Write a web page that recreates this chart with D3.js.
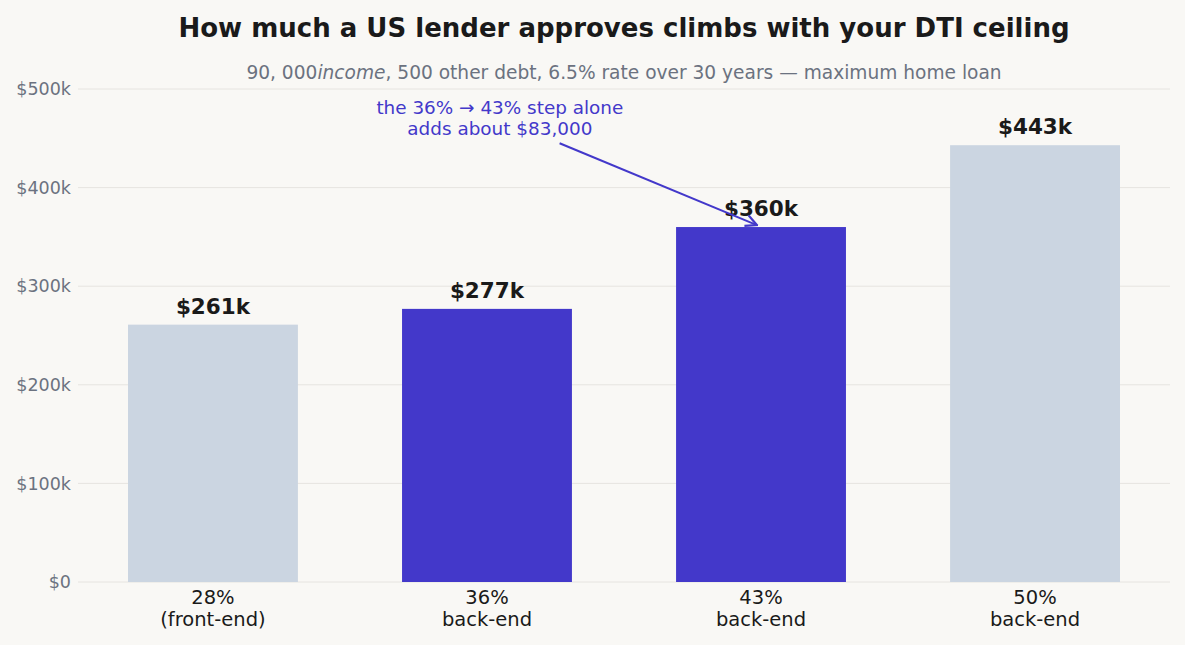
<!DOCTYPE html>
<html>
<head>
<meta charset="utf-8">
<script src="https://cdn.jsdelivr.net/npm/d3@7"></script>
<style>
  body { margin: 0; background: #f9f8f5; }
  text { font-family: "DejaVu Sans", sans-serif; }
</style>
</head>
<body>
<script>
// data
const categories = ["28%\n(front-end)", "36%\nback-end", "43%\nback-end", "50%\nback-end"];
const loanValues = [261, 277, 360, 443]; // $k
const highlighted = [false, true, true, false];
const yTicks = [0, 100, 200, 300, 400, 500];

const width = 1185, height = 645;
const margin = { top: 89, right: 15, bottom: 63, left: 78 };

const svg = d3.select("body").append("svg")
  .attr("width", width)
  .attr("height", height)
  .style("background", "#f9f8f5");

const x = d3.scaleBand()
  .domain(d3.range(categories.length))
  .range([margin.left, width - margin.right])
  .paddingInner(0.38)
  .paddingOuter(0.1825);

const y = d3.scaleLinear()
  .domain([0, 500])
  .range([height - margin.bottom, margin.top]);

// gridlines
svg.append("g")
  .selectAll("line")
  .data(yTicks)
  .join("line")
  .attr("x1", margin.left)
  .attr("x2", width - margin.right)
  .attr("y1", d => y(d))
  .attr("y2", d => y(d))
  .attr("stroke", "#e6e4e0")
  .attr("stroke-width", 1);

// y tick labels
svg.append("g")
  .selectAll("text")
  .data(yTicks)
  .join("text")
  .attr("x", margin.left - 7)
  .attr("y", d => y(d))
  .attr("dy", "0.35em")
  .attr("text-anchor", "end")
  .attr("fill", "#6b7280")
  .style("font-size", "17.5px")
  .text(d => d === 0 ? "$0" : `$${d}k`);

// bars
svg.append("g")
  .selectAll("rect")
  .data(loanValues)
  .join("rect")
  .attr("x", (d, i) => x(i))
  .attr("width", x.bandwidth())
  .attr("y", d => y(d))
  .attr("height", d => y(0) - y(d))
  .attr("fill", (d, i) => highlighted[i] ? "#4338ca" : "#cbd5e1");

// value labels
svg.append("g")
  .selectAll("text")
  .data(loanValues)
  .join("text")
  .attr("x", (d, i) => x(i) + x.bandwidth() / 2)
  .attr("y", d => y(d) - 11)
  .attr("text-anchor", "middle")
  .attr("fill", "#1a1a1a")
  .style("font-size", "21.5px")
  .style("font-weight", "bold")
  .text(d => `$${d}k`);

// category labels
const cat = svg.append("g")
  .selectAll("text")
  .data(categories)
  .join("text")
  .attr("x", (d, i) => x(i) + x.bandwidth() / 2)
  .attr("y", y(0) + 22)
  .attr("text-anchor", "middle")
  .attr("fill", "#1a1a1a")
  .style("font-size", "19.5px");
cat.each(function (d) {
  const lines = d.split("\n");
  d3.select(this).selectAll("tspan")
    .data(lines)
    .join("tspan")
    .attr("x", d3.select(this).attr("x"))
    .attr("dy", (l, j) => j === 0 ? 0 : "1.13em")
    .text(l => l);
});

// title + subtitle
const cx = (margin.left + width - margin.right) / 2;
svg.append("text")
  .attr("x", cx)
  .attr("y", 37)
  .attr("text-anchor", "middle")
  .attr("fill", "#1a1a1a")
  .style("font-size", "26px")
  .style("font-weight", "bold")
  .text("How much a US lender approves climbs with your DTI ceiling");

const sub = svg.append("text")
  .attr("x", cx)
  .attr("y", 79)
  .attr("text-anchor", "middle")
  .attr("fill", "#6b7280")
  .style("font-size", "18.6px");
sub.append("tspan").text("90, 000");
sub.append("tspan").style("font-style", "italic").text("income");
sub.append("tspan").text(", 500 other debt, 6.5% rate over 30 years — maximum home loan");

// annotation
const annColor = "#4338ca";
svg.append("defs").append("marker")
  .attr("id", "arrowhead")
  .attr("viewBox", "0 0 10 10")
  .attr("refX", 9)
  .attr("refY", 5)
  .attr("markerWidth", 7)
  .attr("markerHeight", 7)
  .attr("orient", "auto")
  .append("path")
  .attr("d", "M1,1 L9,5 L1,9")
  .attr("fill", "none")
  .attr("stroke", annColor)
  .attr("stroke-width", 1.6);

const xi = i => x(0) + x.bandwidth() / 2 + i * x.step();
svg.append("line")
  .attr("x1", xi(1.265))
  .attr("y1", y(445))
  .attr("x2", xi(1.985))
  .attr("y2", y(362))
  .attr("stroke", annColor)
  .attr("stroke-width", 2)
  .attr("marker-end", "url(#arrowhead)");

const ann = svg.append("text")
  .attr("x", xi(1.047))
  .attr("y", y(475))
  .attr("text-anchor", "middle")
  .attr("fill", annColor)
  .style("font-size", "18.4px");
ann.append("tspan").attr("x", xi(1.047)).text("the 36% → 43% step alone");
ann.append("tspan").attr("x", xi(1.047)).attr("dy", "1.15em").text("adds about $83,000");
</script>
</body>
</html>
